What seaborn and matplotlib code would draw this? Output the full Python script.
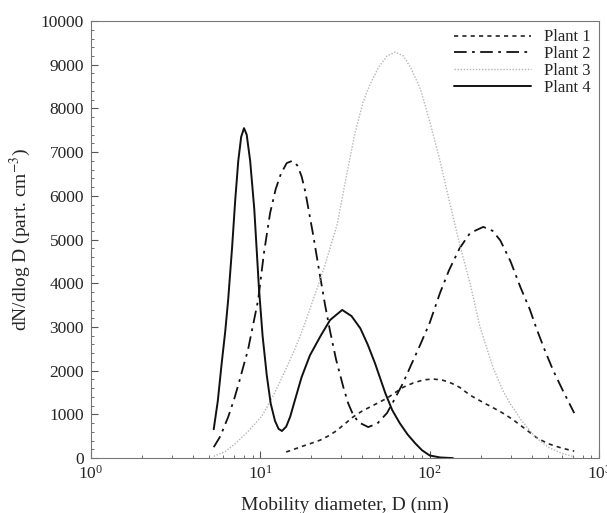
import matplotlib
matplotlib.use("Agg")
import matplotlib.pyplot as plt
from matplotlib.ticker import AutoMinorLocator, LogLocator, NullFormatter
import numpy as np
import pandas as pd
import seaborn as sns

# values (diameter in nm, dN/dlogD in part./cm3)
plant1_d = [14.2, 16, 18, 20, 22.5, 25, 28, 31, 35.2, 40, 46, 55.9, 62, 69.6, 80, 92, 105, 120, 135, 150,
            173, 205, 240, 270, 310, 360, 430, 500, 600, 713]
plant1_n = [140, 210, 280, 340, 410, 500, 620, 760, 940, 1080, 1200, 1370, 1490, 1620, 1720, 1790, 1810, 1780, 1710, 1620,
            1440, 1280, 1140, 1030, 880, 690, 460, 330, 230, 160]

plant2_d = [5.3, 5.8, 6.45, 7.0, 7.5, 8.0, 8.44, 9.0, 9.7, 10.5, 11.4, 12.3, 13.2, 14.3, 15.4, 16.5, 17.5, 18.4,
            20.4, 22.2, 24.1, 25.8, 28, 30.9, 33, 35.2, 38, 43.3, 49, 55.9, 62, 69.6, 78, 88, 100, 115, 130, 150,
            173, 207, 235, 261, 300, 343, 390, 430, 480, 535, 610, 713]
plant2_n = [250, 500, 940, 1350, 1750, 2150, 2470, 3000, 3620, 4700, 5600, 6150, 6500, 6750, 6800, 6700, 6450, 6100,
            5150, 4300, 3500, 2900, 2250, 1620, 1250, 1000, 820, 710, 790, 1030, 1350, 1720, 2150, 2600, 3100, 3780, 4300, 4800,
            5150, 5290, 5200, 4980, 4500, 3910, 3400, 2930, 2450, 2010, 1550, 1030]

plant3_d = [5.3, 6.2, 7.1, 8.5, 10.2, 12, 14, 16, 18, 20.4, 24, 28.4, 32, 36, 40.4, 44.4, 50, 56, 62.5, 70, 78, 88,
            100, 115, 132, 150, 173, 198, 236, 270, 298, 350, 420, 500, 600, 713]
plant3_n = [40, 150, 330, 620, 960, 1450, 2000, 2500, 3000, 3600, 4400, 5350, 6400, 7400, 8150, 8550, 8950, 9200, 9290,
            9200, 8900, 8450, 7700, 6800, 5800, 4900, 4000, 3000, 2080, 1550, 1250, 850, 480, 250, 110, 30]

plant4_d = [5.3, 5.6, 5.9, 6.2, 6.45, 6.8, 7.1, 7.4, 7.7, 8.0, 8.3, 8.7, 9.2, 9.8, 10.3, 10.9, 11.5, 12.2, 12.8, 13.4,
            14.2, 15.0, 16.0, 17.5, 19.6, 22.7, 25.8, 30.4, 34.5, 38.9, 43, 47.5, 54.6, 60, 66.5, 74, 82, 90, 100, 115, 137]
plant4_n = [660, 1300, 2150, 2900, 3620, 4800, 5900, 6800, 7350, 7550, 7400, 6800, 5700, 3900, 2800, 1900, 1250, 850, 670, 620,
            720, 950, 1330, 1850, 2350, 2800, 3160, 3390, 3250, 2970, 2600, 2170, 1490, 1100, 800, 540, 340, 180, 60, 15, 0]

labels = ["Plant 1", "Plant 2", "Plant 3", "Plant 4"]

sns.set_style("ticks")
plt.rcParams["font.family"] = ["Liberation Serif", "DejaVu Serif"]
plt.rcParams["mathtext.fontset"] = "stix"

fig = plt.figure(figsize=(6.07, 5.13), dpi=100)
ax = fig.add_axes([0.150, 0.107, 0.837, 0.852])

styles = [
    dict(color="#222222", linestyle=(0, (2.5, 2.5)), linewidth=1.2),
    dict(color="#111111", linestyle=(0, (7, 3, 1.5, 3)), linewidth=1.3),
    dict(color="#b5b5b5", linestyle=(0, (1, 1.2)), linewidth=1.0),
    dict(color="#111111", linestyle="-", linewidth=1.4),
]
series = [(plant1_d, plant1_n), (plant2_d, plant2_n), (plant3_d, plant3_n), (plant4_d, plant4_n)]
for (d, n), lab, st in zip(series, labels, styles):
    df = pd.DataFrame({"D": d, "N": n})
    sns.lineplot(data=df, x="D", y="N", ax=ax, label=lab, sort=False, **st)

ax.set_xscale("log")
ax.set_xlim(1, 1000)
ax.set_ylim(0, 10000)
ax.set_yticks(np.arange(0, 10001, 1000))
ax.yaxis.set_minor_locator(AutoMinorLocator(5))
ax.xaxis.set_minor_locator(LogLocator(base=10, subs=np.arange(2, 10)))
ax.xaxis.set_minor_formatter(NullFormatter())
ax.tick_params(which="both", direction="in", labelsize=12.5, color="#555555")
ax.tick_params(which="major", length=5, pad=5)
ax.tick_params(which="minor", length=2.5)
for sp in ax.spines.values():
    sp.set_color("#777777")
    sp.set_linewidth(0.8)

ax.set_xlabel("Mobility diameter, D (nm)", fontsize=14, labelpad=10)
ax.set_ylabel("dN/dlog D (part. cm$^{-3}$)", fontsize=14, labelpad=6)

leg = ax.legend(loc="upper right", frameon=False, fontsize=12, handlelength=4.6,
                labelspacing=0.05, borderaxespad=0.1, handletextpad=0.8)

fig.savefig("out.png", dpi=100)
